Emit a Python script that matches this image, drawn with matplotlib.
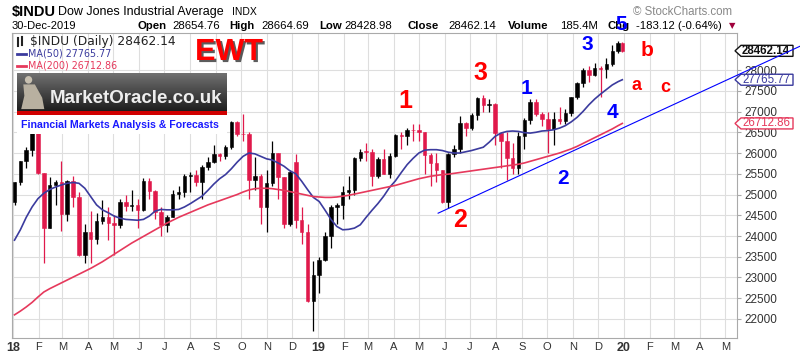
import numpy as np
import pandas as pd
import matplotlib
matplotlib.use("Agg")
import matplotlib.pyplot as plt
import matplotlib.dates as mdates
import matplotlib.patheffects as pe
import matplotlib.transforms as mtransforms
from matplotlib.patches import Polygon, Rectangle, Ellipse

# ---- weekly OHLC (weeks ending Fri, grouped by month) ----
opens_2018 = [24809, 25296, 25803, 26072,
              26617, 25521, 24191, 25219,
              25310, 24538, 25336, 24946, 23533,
              24103, 23933, 24360, 24463,
              24311, 24263, 24831, 24715,
              24753, 24635, 25317, 25090, 24581,
              24271, 24456, 25019, 25058,
              25451, 25463, 25313, 25669, 25790,
              25965, 25917, 26154, 26743,
              26458, 26447, 25340, 25444,
              24689, 25270, 25989, 25413, 24286,
              25780, 24389, 24100, 22445]
highs_2018 = [25300, 25810, 26153, 26617,
              26620, 25530, 25432, 25340,
              25800, 25340, 25450, 25070, 24300,
              24600, 24550, 24858, 24700,
              24500, 24900, 25000, 25100,
              24900, 25400, 25400, 25100, 24700,
              24500, 25100, 25200, 25500,
              25550, 25600, 25700, 25900, 26200,
              26000, 26200, 26770, 26770,
              26951, 26500, 25900, 25500,
              25600, 26300, 26000, 25420, 25600,
              25980, 24700, 24300, 23400]
lows_2018 = [24741, 25236, 25640, 25936,
             25490, 23360, 24190, 24742,
             24117, 24350, 24700, 23509, 23347,
             23344, 23800, 24300, 23900,
             23531, 24200, 24600, 24600,
             24200, 24600, 24900, 24400, 24000,
             24100, 24450, 24900, 24950,
             25050, 25200, 24900, 25600, 25750,
             25800, 25850, 26100, 26400,
             26300, 24900, 25100, 24300,
             24100, 25200, 24900, 24200, 24250,
             24200, 23800, 22400, 21712]
closes_2018 = [25296, 25803, 26072, 26617,
               25521, 24191, 25219, 25310,
               24538, 25336, 24946, 23533, 24103,
               23933, 24360, 24463, 24311,
               24263, 24831, 24715, 24753,
               24635, 25317, 25090, 24581, 24271,
               24456, 25019, 25058, 25451,
               25463, 25313, 25669, 25790, 25965,
               25917, 26154, 26743, 26458,
               26447, 25340, 25444, 24689,
               25270, 25989, 25413, 24286, 25538,
               24389, 24100, 22445, 23062]

opens_2019 = [23062, 23433, 23996, 24706,
              24737, 25064, 25106, 25883,
              26031, 26026, 25450, 25849, 25502,
              25929, 26425, 26412, 26560,
              26543, 26505, 25942, 25764, 25585,
              24815, 25984, 26089, 26719,
              26600, 26922, 27332, 27154,
              27192, 26485, 26287, 25886, 25628,
              26403, 26797, 27220, 26935,
              26820, 26574, 26817, 26770,
              26958, 27347, 27681, 28005, 27876,
              28051, 28015, 28135, 28455, 28654.76]
highs_2019 = [23500, 24100, 24750, 24800,
              25200, 25450, 25900, 26100,
              26240, 26100, 25900, 26100, 26000,
              26450, 26500, 26600, 26700,
              26700, 26510, 26000, 26000, 25600,
              26000, 26200, 26900, 26750,
              26970, 27350, 27398, 27300,
              27200, 26500, 26500, 26250, 26500,
              26850, 27300, 27300, 27000,
              27000, 27000, 27100, 27050,
              27350, 27700, 28050, 28100, 28175,
              28100, 28300, 28600, 28700, 28664.69]
lows_2019 = [22638, 23400, 23700, 24300,
             24400, 24880, 25000, 25800,
             25800, 25200, 25400, 25500, 25400,
             25900, 26100, 26200, 26300,
             26300, 25500, 25200, 25300, 24800,
             24680, 25900, 26000, 26400,
             26550, 26800, 27000, 27000,
             26200, 25650, 25340, 25500, 25500,
             26100, 26700, 26900, 26650,
             26000, 26200, 26700, 26700,
             26900, 27300, 27600, 27700, 27850,
             27350, 27800, 28100, 28400, 28428.98]
closes_2019 = [23433, 23996, 24706, 24737,
               25064, 25106, 25883, 26031,
               26026, 25450, 25849, 25502, 25929,
               26425, 26412, 26560, 26543,
               26505, 25942, 25764, 25585, 24815,
               25984, 26089, 26719, 26600,
               26922, 27332, 27154, 27192,
               26485, 26287, 25886, 25628, 26403,
               26797, 27220, 26935, 26820,
               26574, 26817, 26770, 26958,
               27347, 27681, 28005, 27876, 28051,
               28015, 28135, 28455, 28645, 28462.14]

# moving averages, one value per week
ma50_2018 = [23900, 24150, 24450, 24700, 24900,
             25030, 25120, 25180, 25230,
             25270, 25290, 25270, 25150,
             24950, 24750, 24630, 24560,
             24480, 24430, 24400, 24390, 24380,
             24400, 24480, 24600, 24640,
             24630, 24630, 24640, 24700,
             24780, 24870, 24960, 25100, 25250,
             25380, 25480, 25620, 25780,
             25920, 26000, 25980, 25920, 25860,
             25830, 25760, 25680, 25570,
             25500, 25320, 25120, 24930]
ma50_2019 = [24830, 24620, 24400, 24230, 24150,
             24160, 24190, 24270, 24450,
             24620, 24780, 24960, 25170,
             25330, 25530, 25720, 25870,
             26000, 26070, 26080, 26080, 26060,
             26020, 26000, 26000, 26030,
             26060, 26100, 26140, 26260, 26400,
             26480, 26520, 26530, 26520,
             26490, 26480, 26500, 26530,
             26540, 26560, 26600, 26660, 26750,
             26860, 27000, 27160, 27300,
             27420, 27530, 27640, 27720, 27765.77]
ma200_2018 = [22100, 22190, 22290, 22400, 22530,
              22650, 22730, 22800, 22870,
              22940, 23010, 23080, 23150,
              23220, 23300, 23380, 23470,
              23560, 23650, 23740, 23830, 23910,
              23990, 24070, 24150, 24230,
              24310, 24380, 24450, 24510,
              24570, 24630, 24690, 24750, 24800,
              24850, 24900, 24950, 25000,
              25060, 25110, 25140, 25150, 25150,
              25140, 25120, 25100, 25070,
              25040, 25010, 24980, 24950]
ma200_2019 = [24940, 24930, 24930, 24940, 24960,
              24980, 25010, 25040, 25070,
              25100, 25130, 25160, 25190,
              25220, 25260, 25300, 25340,
              25380, 25410, 25440, 25460, 25480,
              25490, 25510, 25530, 25550,
              25570, 25590, 25610, 25630, 25650,
              25670, 25690, 25710, 25730,
              25760, 25800, 25840, 25880,
              25920, 25960, 26000, 26050, 26100,
              26160, 26230, 26300, 26370,
              26440, 26510, 26580, 26660, 26712.86]

# uptrend line drawn on the chart (two anchor points)
trend_dates = ["2019-05-24", "2020-07-30"]
trend_vals = [24550, 28580]

last_close, last_ma50, last_ma200 = 28462.14, 27765.77, 26712.86

week_dates = list(pd.date_range("2018-01-03", periods=104, freq="7D")) + [pd.Timestamp("2019-12-30")]

o = np.array(opens_2018 + opens_2019, dtype=float)
h = np.array(highs_2018 + highs_2019, dtype=float)
l = np.array(lows_2018 + lows_2019, dtype=float)
c = np.array(closes_2018 + closes_2019, dtype=float)
ma50 = np.array(ma50_2018 + ma50_2019)
ma200 = np.array(ma200_2018 + ma200_2019)

W, H = 800, 354
def fx(x): return x / W
def fy(y): return 1 - y / H

RED = "#e0194b"
NAVY = "#3b3b9e"
CRIMSON = "#e6395c"
ARIAL = "Liberation Sans"

fig = plt.figure(figsize=(8, 3.54), dpi=100)
ax = fig.add_axes([fx(12), fy(338), (737 - 12) / W, (338 - 33) / H])

x = mdates.date2num(week_dates)
col = np.where(c >= o, "#000000", RED)
ax.vlines(x, l, h, colors=col, lw=0.9, zorder=3)
body = np.maximum(np.abs(c - o), 20)
ax.bar(x, body, bottom=np.minimum(o, c), width=4.2, color=col, edgecolor=col, lw=0.4, zorder=3)

ax.plot(x, ma50, color=NAVY, lw=1.2, zorder=4)
ax.plot(x, ma200, color=CRIMSON, lw=1.2, zorder=4)
ax.plot(mdates.date2num(pd.to_datetime(trend_dates)), trend_vals, color="#0000ff", lw=0.8,
        clip_on=False, zorder=20)

ax.set_xlim(mdates.date2num(pd.Timestamp("2017-12-31")), mdates.date2num(pd.Timestamp("2020-05-15")))
ax.set_ylim(21542, 28892)

month_starts = pd.date_range("2018-01-01", "2020-05-01", freq="MS")
letters = "JFMAMJJASOND"
labels = [f"{d.year % 100:02d}" if d.month == 1 else letters[d.month - 1] for d in month_starts]
ax.set_xticks(mdates.date2num(month_starts))
ax.set_xticklabels(labels, fontfamily=ARIAL, fontsize=8, color="#333")
for t, d in zip(ax.get_xticklabels(), month_starts):
    if d.month == 1:
        t.set_fontweight("bold")
        t.set_fontsize(9)
ax.set_yticks(np.arange(22000, 28001, 500))
ax.yaxis.tick_right()
ax.set_yticklabels([str(v) for v in range(22000, 28001, 500)], fontfamily=ARIAL, fontsize=8.5, color="#333")
ax.tick_params(axis="x", length=0, pad=3)
ax.tick_params(axis="y", length=3, color="#aaa", pad=2)
ax.grid(color="#dedede", lw=0.8)
ax.set_axisbelow(True)
for s in ax.spines.values():
    s.set_color("#aaaaaa")
    s.set_linewidth(0.8)

# value tags on the right
blend = mtransforms.blended_transform_factory(fig.transFigure, ax.transData)
hh = 5.5 * (28892 - 21542) / (338 - 33)
def value_tag(val, text, color, bold):
    pts = [(fx(735), val), (fx(741), val + hh), (fx(793), val + hh), (fx(793), val - hh), (fx(741), val - hh)]
    ax.add_patch(Polygon(pts, closed=True, transform=blend, fc="white", ec=color, lw=1.0,
                         clip_on=False, zorder=15))
    ax.text(fx(766), val, text, transform=blend, ha="center", va="center", fontsize=8.3,
            fontfamily=ARIAL, color=color, fontweight="bold" if bold else "normal",
            clip_on=False, zorder=16)
value_tag(last_close, "28462.14", "#111111", True)
value_tag(last_ma50, "27765.77", NAVY, False)
value_tag(last_ma200, "26712.86", CRIMSON, False)

# header
fig.text(fx(12), fy(12), "$INDU", fontfamily=ARIAL, fontsize=10.5, weight="bold", va="center")
fig.text(fx(58), fy(12), "Dow Jones Industrial Average", fontfamily=ARIAL, fontsize=9, va="center")
fig.text(fx(232), fy(12), "INDX", fontfamily=ARIAL, fontsize=7.5, va="center")
fig.text(fx(633), fy(12), "\u00a9 StockCharts.com", fontfamily=ARIAL, fontsize=8.3, color="#888", va="center")
fig.text(fx(12), fy(26), "30-Dec-2019", fontfamily=ARIAL, fontsize=8, va="center")
header = [(137, "Open", True), (172, "28654.76", False), (229, "High", True), (261, "28664.69", False),
          (319, "Low", True), (344, "28428.98", False), (408, "Close", True), (448, "28462.14", False),
          (508, "Volume", True), (560, "185.4M", False), (607, "Chg", True), (636, "-183.12 (-0.64%)", False)]
for px, s, b in header:
    fig.text(fx(px), fy(26), s, fontfamily=ARIAL, fontsize=8.2, weight="bold" if b else "normal", va="center")
fig.text(fx(732), fy(26), "\u25bc", fontsize=6, color="#a0003c", va="center", ha="center")

# in-chart legend
fig.text(fx(30), fy(42), "$INDU (Daily) 28462.14", fontsize=8.8, color="#222", va="center")
fig.text(fx(28), fy(54), "MA(50) 27765.77", fontsize=6.9, color=NAVY, va="center")
fig.text(fx(28), fy(66), "MA(200) 26712.86", fontsize=6.9, color=CRIMSON, va="center")
fig.lines.append(plt.Line2D([fx(17), fx(26)], [fy(54), fy(54)], transform=fig.transFigure, color=NAVY, lw=2))
fig.lines.append(plt.Line2D([fx(17), fx(26)], [fy(66), fy(66)], transform=fig.transFigure, color=CRIMSON, lw=2))
fig.lines.append(plt.Line2D([fx(18), fx(18)], [fy(38), fy(46)], transform=fig.transFigure, color="#222", lw=1.5))
fig.lines.append(plt.Line2D([fx(22), fx(22)], [fy(37), fy(45)], transform=fig.transFigure, color="#222", lw=1.5))

# MarketOracle logo
fig.patches.append(Rectangle((fx(17), fy(134)), (227 - 17) / W, (134 - 73) / H, transform=fig.transFigure,
                             fc="white", ec="none", zorder=1))
lax = fig.add_axes([fx(17), fy(111), (227 - 17) / W, (111 - 73) / H], zorder=2)
grad = np.linspace(0.45, 0.12, 50)[:, None] * np.ones((1, 10))
lax.imshow(grad, cmap="gray", vmin=0, vmax=1, aspect="auto", extent=[0, 1, 0, 1])
# rough statue silhouette on the left of the logo
lax.add_patch(Ellipse((0.055, 0.82), 0.035, 0.2, fc="#c8c0b0", ec="none"))
lax.add_patch(Polygon([(0.03, 0.7), (0.085, 0.7), (0.12, 0.35), (0.13, 0.05), (0.02, 0.05), (0.035, 0.4)],
                      closed=True, fc="#b8b0a0", ec="none"))
lax.set_xlim(0, 1)
lax.set_ylim(0, 1)
lax.axis("off")
fig.patches.append(Rectangle((fx(17), fy(115)), (227 - 17) / W, 4 / H, transform=fig.transFigure,
                             fc="#d00000", ec="none", zorder=3))
fig.text(fx(136), fy(99), "MarketOracle.co.uk", fontfamily=ARIAL, fontsize=13.5, weight="bold",
         color="#eeeeee", ha="center", va="center", zorder=5)
fig.text(fx(120), fy(125), "Financial Markets Analysis & Forecasts", fontfamily=ARIAL, fontsize=7.6,
         weight="bold", color="#1a1aff", ha="center", va="center")

# EWT + wave labels
fig.text(fx(229), fy(52), "EWT", fontfamily=ARIAL, fontsize=22, weight="bold", color="#ff0000",
         ha="center", va="center",
         path_effects=[pe.withSimplePatchShadow(offset=(1.5, -1.5), shadow_rgbFace="#333", alpha=0.8)])
waves = [(405, 101, "1", "#ff0000", 18), (460, 220, "2", "#ff0000", 18), (480, 73, "3", "#ff0000", 18),
         (527, 88, "1", "#0000ff", 15), (563, 178, "2", "#0000ff", 15), (587, 45, "3", "#0000ff", 15),
         (612, 112, "4", "#0000ff", 15), (621, 24, "5", "#0000ff", 15),
         (636, 86, "a", "#ff0000", 13), (647, 50, "b", "#ff0000", 15), (665, 88, "c", "#ff0000", 13)]
for px, py, s, colr, fs in waves:
    fig.text(fx(px), fy(py), s, fontfamily=ARIAL, fontsize=fs, weight="bold", color=colr,
             ha="center", va="center", zorder=10)

fig.savefig("out.png", dpi=100)
